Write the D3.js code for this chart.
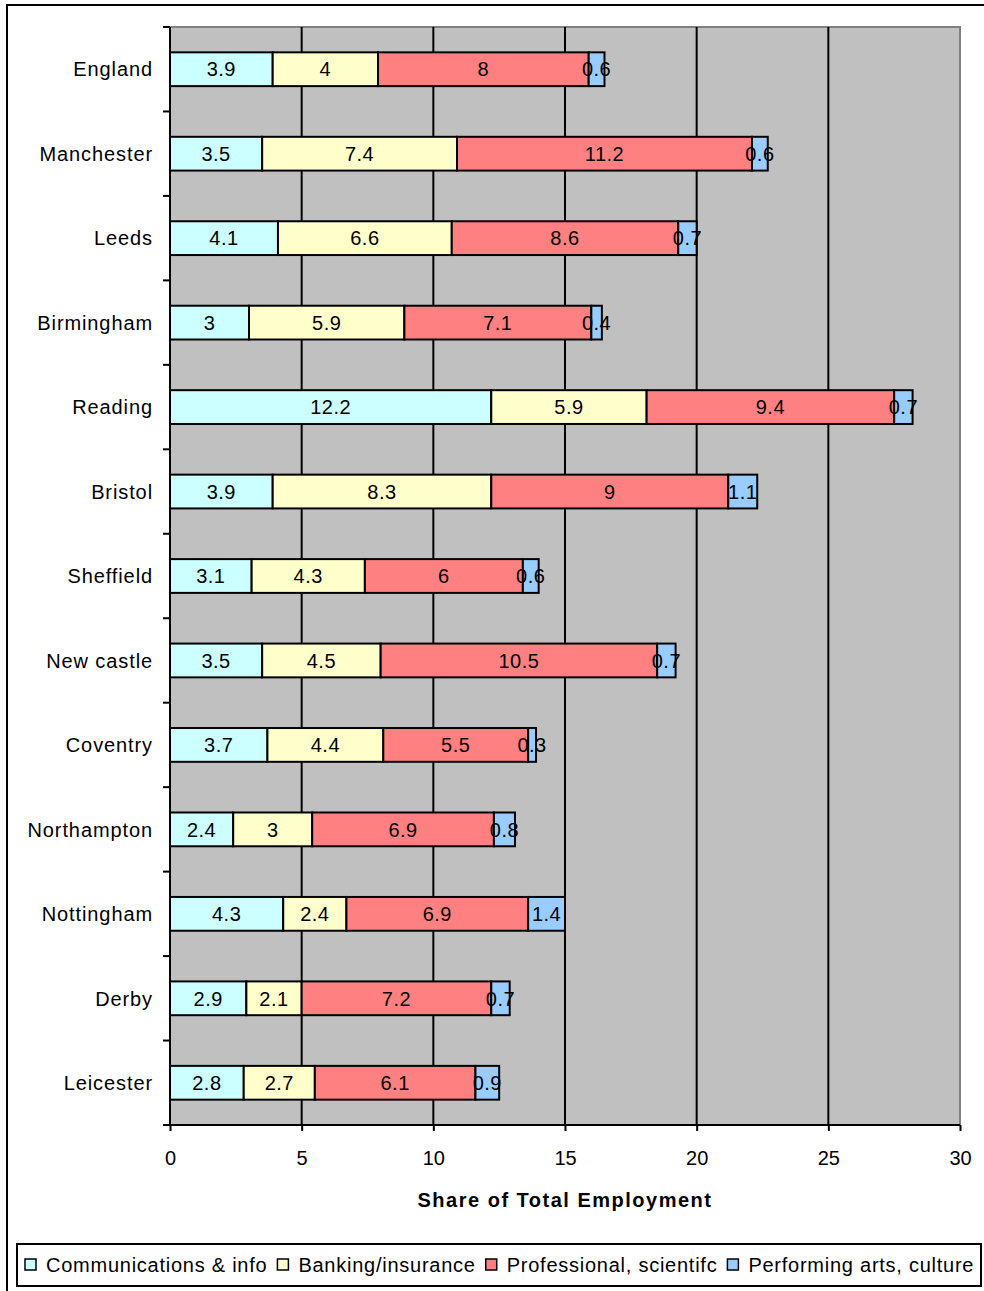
<!DOCTYPE html>
<html>
<head>
<meta charset="utf-8">
<script src="https://cdn.jsdelivr.net/npm/d3@7"></script>
<style>
  html, body { margin: 0; padding: 0; background: #fff; }
  svg { display: block; }
  text { font-family: "Liberation Sans", Arial, sans-serif; fill: #000; }
</style>
</head>
<body>
<svg id="chart" width="984" height="1291"></svg>
<script>
// Employment share by sector for selected cities
const cities = ["England", "Manchester", "Leeds", "Birmingham", "Reading", "Bristol",
  "Sheffield", "New castle", "Coventry", "Northampton", "Nottingham", "Derby", "Leicester"];
const seriesNames = ["Communications & info", "Banking/insurance",
  "Professional, scientifc", "Performing arts, culture"];
const seriesColors = ["#CCFFFF", "#FFFFCC", "#FF8080", "#99CCFF"];
const commsInfo   = [3.9, 3.5, 4.1, 3.0, 12.2, 3.9, 3.1, 3.5, 3.7, 2.4, 4.3, 2.9, 2.8];
const banking     = [4.0, 7.4, 6.6, 5.9, 5.9, 8.3, 4.3, 4.5, 4.4, 3.0, 2.4, 2.1, 2.7];
const professional= [8.0, 11.2, 8.6, 7.1, 9.4, 9.0, 6.0, 10.5, 5.5, 6.9, 6.9, 7.2, 6.1];
const performing  = [0.6, 0.6, 0.7, 0.4, 0.7, 1.1, 0.6, 0.7, 0.3, 0.8, 1.4, 0.7, 0.9];
const xTicks = [0, 5, 10, 15, 20, 25, 30];
const xTitle = "Share of Total Employment";

const seriesValues = [commsInfo, banking, professional, performing];
const rows = cities.map((c, i) => {
  const r = { city: c };
  seriesNames.forEach((s, k) => { r[s] = seriesValues[k][i]; });
  return r;
});
const stacked = d3.stack().keys(seriesNames)(rows);

const svg = d3.select("#chart");
const plot = { left: 170, right: 960, top: 27, bottom: 1125 };

// outer frame
svg.append("rect")
  .attr("x", 7).attr("y", 5).attr("width", 1000).attr("height", 1300)
  .attr("fill", "#fff").attr("stroke", "#000").attr("stroke-width", 2);

const x = d3.scaleLinear().domain([0, 30]).range([plot.left, plot.right]);
const y = d3.scaleBand().domain(cities).range([plot.top, plot.bottom]).paddingInner(0.6).paddingOuter(0.3);
const yBand = d3.scaleBand().domain(cities).range([plot.top, plot.bottom]);

// plot background
svg.append("rect")
  .attr("x", plot.left).attr("y", plot.top)
  .attr("width", plot.right - plot.left).attr("height", plot.bottom - plot.top)
  .attr("fill", "#C0C0C0");
svg.append("path")
  .attr("d", `M${plot.left},${plot.top}H${plot.right}V${plot.bottom}`)
  .attr("fill", "none").attr("stroke", "#808080").attr("stroke-width", 2);

// vertical gridlines
svg.append("g").selectAll("line")
  .data(xTicks.filter(t => t > 0 && t < 30))
  .join("line")
  .attr("x1", d => x(d)).attr("x2", d => x(d))
  .attr("y1", plot.top).attr("y2", plot.bottom)
  .attr("stroke", "#000").attr("stroke-width", 2);

// stacked bars
const layer = svg.append("g").selectAll("g")
  .data(stacked).join("g")
  .attr("fill", (d, i) => seriesColors[i]);
layer.selectAll("rect")
  .data(d => d.map(p => ({ p, city: p.data.city })))
  .join("rect")
  .attr("x", d => x(d.p[0]))
  .attr("y", d => y(d.city))
  .attr("width", d => x(d.p[1]) - x(d.p[0]))
  .attr("height", y.bandwidth())
  .attr("stroke", "#000").attr("stroke-width", 2);

// segment value labels
const labels = svg.append("g");
stacked.forEach(s => {
  s.forEach(p => {
    labels.append("text")
      .attr("x", (x(p[0]) + x(p[1])) / 2)
      .attr("y", y(p.data.city) + y.bandwidth() / 2)
      .attr("dy", "0.36em")
      .attr("text-anchor", "middle")
      .style("font-size", "20px")
      .style("letter-spacing", "0.5px")
      .text(String(p.data[s.key]));
  });
});

// x axis
const xAxis = svg.append("g")
  .attr("transform", `translate(0,${plot.bottom})`)
  .call(d3.axisBottom(x).tickValues(xTicks).tickSize(6).tickPadding(20).tickSizeOuter(0));
xAxis.select(".domain").attr("d", `M${plot.left - 7},0H${plot.right}`).attr("stroke-width", 2);
xAxis.selectAll(".tick line").attr("stroke-width", 2);
xAxis.selectAll(".tick text").style("font-size", "20px").attr("font-family", null);

// y axis with ticks on band boundaries
const yAxis = svg.append("g").attr("transform", `translate(${plot.left},0)`);
yAxis.append("line")
  .attr("x1", 0).attr("x2", 0).attr("y1", plot.top).attr("y2", plot.bottom)
  .attr("stroke", "#000").attr("stroke-width", 2);
yAxis.selectAll("line.tk")
  .data(cities)
  .join("line").attr("class", "tk")
  .attr("x1", -7).attr("x2", 0)
  .attr("y1", d => yBand(d)).attr("y2", d => yBand(d))
  .attr("stroke", "#000").attr("stroke-width", 2);
yAxis.selectAll("text")
  .data(cities)
  .join("text")
  .attr("x", -17)
  .attr("y", d => yBand(d) + yBand.bandwidth() / 2)
  .attr("dy", "0.36em")
  .attr("text-anchor", "end")
  .style("font-size", "20px")
  .style("letter-spacing", "0.9px")
  .text(d => d);

// axis title
svg.append("text")
  .attr("x", (plot.left + plot.right) / 2)
  .attr("y", 1207)
  .attr("text-anchor", "middle")
  .style("font-size", "20px").style("font-weight", "bold")
  .style("letter-spacing", "1.5px")
  .text(xTitle);

// legend
const legend = svg.append("g");
legend.append("rect")
  .attr("x", 17).attr("y", 1244).attr("width", 964).attr("height", 42)
  .attr("fill", "#fff").attr("stroke", "#000").attr("stroke-width", 2);
let lx = 25;
seriesNames.forEach((name, i) => {
  legend.append("rect")
    .attr("x", lx).attr("y", 1259).attr("width", 11).attr("height", 11)
    .attr("fill", seriesColors[i]).attr("stroke", "#000").attr("stroke-width", 1.5);
  const t = legend.append("text")
    .attr("x", lx + 21).attr("y", 1265).attr("dy", "0.36em")
    .style("font-size", "20px")
    .style("letter-spacing", "0.75px")
    .text(name);
  lx += 21 + t.node().getComputedTextLength() + 10;
});
</script>
</body>
</html>
